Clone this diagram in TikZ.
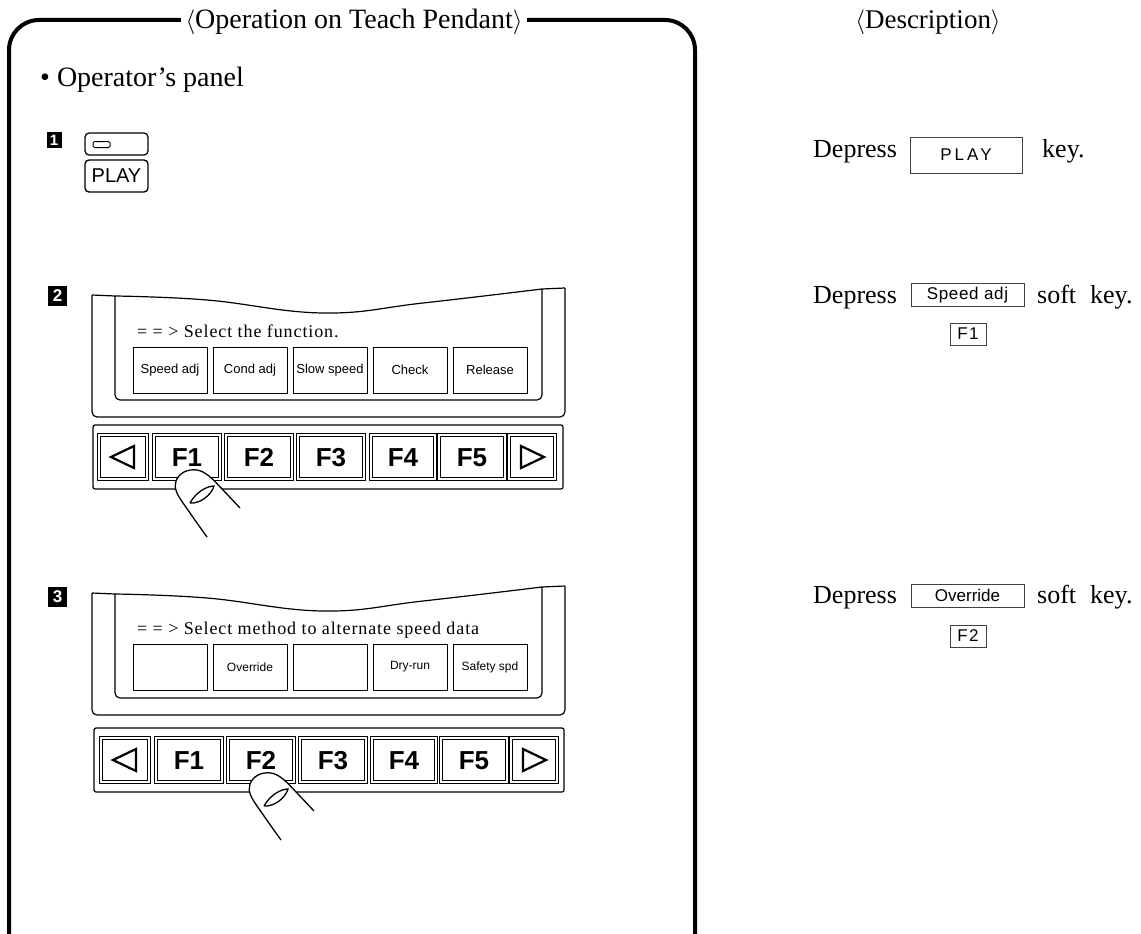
\documentclass[tikz,border=0pt]{standalone}
\usepackage{fontspec}
\setmainfont{Liberation Serif}
\setsansfont{Liberation Sans}
\usetikzlibrary{calc}
\begin{document}
\begin{tikzpicture}[x=1pt,y=-1pt,
  frame/.style={line width=4pt, line cap=round},
  txt/.style={font=\fontsize{26}{30}\selectfont, inner sep=0pt},
  badge/.style={fill=black, text=white, font=\sffamily\bfseries\fontsize{17}{17}\selectfont,
    minimum width=19pt, minimum height=20pt, inner sep=0pt},
  scr/.style={line width=1.2pt},
  msg/.style={anchor=base west, inner sep=0pt, font=\fontsize{18}{20}\selectfont\addfontfeature{LetterSpace=5}},
  softkey/.style={draw, line width=0.9pt, minimum width=74pt, minimum height=46pt, inner sep=0pt,
    font=\sffamily\fontsize{13}{13}\selectfont},
  keyrow/.style={draw, line width=1.2pt, minimum width=470pt, minimum height=64pt, rounded corners=2pt},
  fkey/.style={draw, double, double distance=1.3pt, line width=0.9pt, minimum height=44pt, inner sep=0pt,
    text height=19pt, text depth=0pt, font=\sffamily\bfseries\fontsize{26}{26}\selectfont},
  tri/.style={line width=2.2pt, line join=miter},
  finger/.style={line width=1.3pt},
  descbox/.style={draw=black!75, line width=0.8pt, inner sep=0pt, font=\sffamily\fontsize{17}{17}\selectfont},
]
\useasboundingbox (0,0) rectangle (1141,934);
\fill[white] (0,0) rectangle (1141,934);

% ---- outer frame with its heading ----
\draw[frame, rounded corners=30pt] (9,940) -- (9,20) -- (695,20) -- (695,940);
\node[txt, fill=white, inner xsep=5pt, font=\fontsize{28}{30}\selectfont] (title) at (354,22) {$\langle$Operation on Teach Pendant$\rangle$};
\node[txt, font=\fontsize{27}{30}\selectfont] (desc) at (928,22) {$\langle$Description$\rangle$};

\node[txt, anchor=base west, font=\fontsize{28}{30}\selectfont] (panel) at (40,86) {\textbullet\ Operator's panel};

% ---- step badges ----
\node[badge, minimum width=15pt, minimum height=16pt, font=\sffamily\bfseries\fontsize{15}{15}\selectfont] (b1) at (54,140) {1};
\node[badge] (b2) at (57.5,296) {2};
\node[badge] (b3) at (57.5,597) {3};

% ---- step 1: lamp key and PLAY key ----
\node[draw, rounded corners=4pt, line width=1.2pt, minimum width=63pt, minimum height=22pt] (lampkey) at (116.5,144) {};
\node[draw, rounded corners=1.5pt, line width=1pt, minimum width=17pt, minimum height=6pt, inner sep=0pt] (lamp) at (101.5,144.5) {};
\node[draw, rounded corners=4pt, line width=1.4pt, minimum width=63pt, minimum height=32pt, inner sep=0pt,
  font=\sffamily\fontsize{20}{20}\selectfont] (playkey) at (116.5,176) {PLAY};

% ---- screen outline (wavy top edge) ----
\newcommand\screenoutline{%
  \draw[scr, rounded corners=5pt] (92,295) -- (92,417) -- (565,417) -- (565,288);
  \draw[scr] (92,295) -- (115,296);
  \draw[scr, rounded corners=5pt] (115,296) -- (115,400) -- (542,400) -- (542,289);
  \draw[scr] (542,289) -- (565,288);
  \draw[scr] plot[smooth, tension=0.7] coordinates {(115,296) (207,300) (323,313) (423,303) (542,289)};
}

% finger pressing a key, drawn relative to the key centre
\newcommand\fingertip{%
  \fill[white] plot[smooth, tension=0.6] coordinates {(20,80) (3,56) (-10,36) (-11,24) (-3,15) (10,13) (22,19) (36,33) (53,51)} -- cycle;
  \draw[finger] plot[smooth, tension=0.6] coordinates {(20,80) (3,56) (-10,36) (-11,24) (-3,15) (10,13) (22,19) (36,33) (53,51)};
  \draw[finger] (3,46) .. controls (9,35) and (20,29) .. (27,29) .. controls (24,39) and (12,47) .. (3,46);
}

% ---- step 2 ----
\screenoutline
\node[msg] (msg2) at (137,337) {= = > Select the function.};
\foreach \i/\x/\t in {1/170/Speed adj, 2/250/Cond adj, 3/330/Slow speed, 4/410/Check, 5/490/Release}
  \node[softkey] (s2\i) at (\x,370) {\t};
\node[keyrow] (row2) at (328,457) {};
\foreach \n/\x/\w/\t in {L/123/48/{}, F1/187/66/F1, F2/259/66/F2, F3/331/66/F3, F4/403/64/F4, F5/472/66/F5, R/532/46/{}}
  \node[fkey, minimum width=\w pt] (k2\n) at (\x,457) {\t};
\draw[tri] ($(k2L.center)+(-12,0)$) -- ++(23,-11) -- ++(0,22) -- cycle;
\draw[tri] ($(k2R.center)+(12,0)$) -- ++(-23,-11) -- ++(0,22) -- cycle;
\begin{scope}[shift={(k2F1.center)}]
  \fingertip
\end{scope}

% ---- step 3 ----
\begin{scope}[shift={(0,298)}]
  \screenoutline
\end{scope}
\node[msg] (msg3) at (137,634) {= = > Select method to alternate speed data};
\foreach \i/\x/\t in {1/170/{}, 2/250/Override, 3/330/{}, 4/410/Dry-run, 5/490/Safety spd}
  \node[softkey, font=\sffamily\fontsize{12}{12}\selectfont] (s3\i) at (\x,667) {\t};
\node[keyrow] (row3) at (329,760) {};
\foreach \n/\x/\w/\t in {L/125/48/{}, F1/189/66/F1, F2/261/66/F2, F3/333/66/F3, F4/404/64/F4, F5/474/66/F5, R/534/46/{}}
  \node[fkey, minimum width=\w pt] (k3\n) at (\x,760) {\t};
\draw[tri] ($(k3L.center)+(-12,0)$) -- ++(23,-11) -- ++(0,22) -- cycle;
\draw[tri] ($(k3R.center)+(12,0)$) -- ++(-23,-11) -- ++(0,22) -- cycle;
\begin{scope}[shift={(k3F2.center)}]
  \fingertip
\end{scope}

% ---- description column ----
\node[txt, anchor=base west] (dep1) at (813,157) {Depress};
\node[descbox, minimum width=112pt, minimum height=36pt] (dplay) at (966,155) {\addfontfeature{LetterSpace=18}PLAY};
\node[txt, anchor=base west] (key1) at (1042,157) {key.};

\node[txt, anchor=base west] (dep2) at (813,303) {Depress};
\node[descbox, minimum width=113pt, minimum height=23pt] (dspeed) at (967.5,295) {\addfontfeature{LetterSpace=4}Speed adj};
\node[descbox, minimum width=36pt, minimum height=22pt] (dF1) at (968,334) {\addfontfeature{LetterSpace=8}F1};
\node[txt, anchor=base west] (key2) at (1037,303) {soft\hspace{14pt}key.};

\node[txt, anchor=base west] (dep3) at (813,603) {Depress};
\node[descbox, minimum width=113pt, minimum height=23pt] (dover) at (967.5,595.5) {Override};
\node[descbox, minimum width=36pt, minimum height=22pt] (dF2) at (968,636) {\addfontfeature{LetterSpace=8}F2};
\node[txt, anchor=base west] (key3) at (1037,603) {soft\hspace{14pt}key.};
\end{tikzpicture}
\end{document}
